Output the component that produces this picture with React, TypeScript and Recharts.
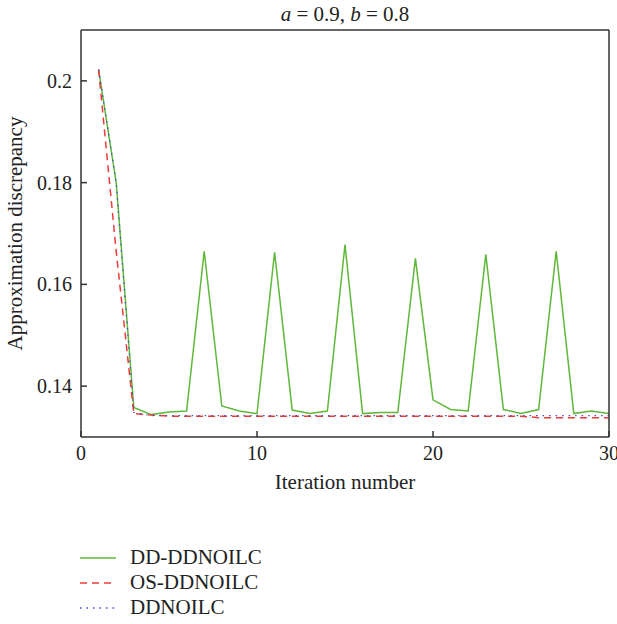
import { LineChart, Line, XAxis, YAxis, Legend, Label } from "recharts";

const iterations = [
  1, 2, 3, 4, 5, 6, 7, 8, 9, 10, 11, 12, 13, 14, 15, 16, 17, 18, 19, 20, 21,
  22, 23, 24, 25, 26, 27, 28, 29, 30,
];

const ddDdnoilc = [
  0.2022, 0.18, 0.1358, 0.1344, 0.1349, 0.1351, 0.1665, 0.1361, 0.1351,
  0.1346, 0.1663, 0.1353, 0.1346, 0.1351, 0.1678, 0.1346, 0.1348, 0.1348,
  0.1651, 0.1373, 0.1354, 0.1351, 0.1659, 0.1354, 0.1346, 0.1354, 0.1665,
  0.1346, 0.1351, 0.1346,
];

const osDdnoilc = [
  0.2022, 0.1665, 0.1346, 0.1343, 0.1341, 0.1341, 0.1341, 0.1341, 0.1341,
  0.1341, 0.1341, 0.1341, 0.1341, 0.1341, 0.1341, 0.1341, 0.1341, 0.1341,
  0.1341, 0.1341, 0.1341, 0.1341, 0.1341, 0.1341, 0.1341, 0.1338, 0.1338,
  0.1338, 0.1338, 0.1338,
];

const ddnoilc = [
  0.2022, 0.18, 0.1348, 0.1342, 0.1342, 0.1342, 0.1342, 0.1342, 0.1342,
  0.1342, 0.1342, 0.1342, 0.1342, 0.1342, 0.1342, 0.1342, 0.1342, 0.1342,
  0.1342, 0.1342, 0.1342, 0.1342, 0.1342, 0.1342, 0.1342, 0.1342, 0.1342,
  0.1342, 0.1342, 0.1342,
];

const seriesNames = ["DD-DDNOILC", "OS-DDNOILC", "DDNOILC"];
const xTicks = [0, 10, 20, 30];
const yTicks = [0.14, 0.16, 0.18, 0.2];

const data = iterations.map((x, i) => ({
  x,
  dd: ddDdnoilc[i],
  os: osDdnoilc[i],
  base: ddnoilc[i],
}));

const FONT = "'Liberation Serif', 'DejaVu Serif', serif";
const AXIS = "#333";

function renderLegend(props: any) {
  const items = (props.payload || [])
    .filter((it: any) => seriesNames.includes(it.value))
    .sort(
      (a: any, b: any) =>
        seriesNames.indexOf(a.value) - seriesNames.indexOf(b.value)
    );
  return (
    <div style={{ fontFamily: FONT, fontSize: 21, color: "#222" }}>
      {items.map((it: any) => (
        <div
          key={it.value}
          style={{ display: "flex", alignItems: "center", height: 25 }}
        >
          <svg width={36} height={10} style={{ marginRight: 14 }}>
            <line
              x1={0}
              y1={5}
              x2={36}
              y2={5}
              stroke={it.color}
              strokeWidth={1.5}
              strokeDasharray={it.payload?.strokeDasharray}
            />
          </svg>
          <span>{it.value}</span>
        </div>
      ))}
    </div>
  );
}

export default function App() {
  return (
    <div style={{ position: "absolute", left: 0, top: 0, background: "#fff" }}>
      <LineChart
        width={617}
        height={624}
        data={data}
        margin={{ top: 29, right: 7, bottom: 137, left: 0 }}
      >
        <XAxis
          xAxisId="b"
          dataKey="x"
          type="number"
          domain={[0, 30]}
          ticks={xTicks}
          height={50}
          stroke={AXIS}
          strokeWidth={1.5}
          tickSize={-6}
          tickMargin={15}
          tick={{ fill: "#222", fontSize: 20, fontFamily: FONT }}
          interval={0}
        >
          <Label
            value="Iteration number"
            position="insideTop"
            offset={37}
            style={{ fill: "#222", fontSize: 21, fontFamily: FONT }}
          />
        </XAxis>
        <XAxis
          xAxisId="t"
          dataKey="x"
          orientation="top"
          type="number"
          domain={[0, 30]}
          ticks={xTicks}
          height={1}
          stroke={AXIS}
          strokeWidth={1.5}
          tickSize={-6}
          tick={false}
          interval={0}
        >
          <Label
            content={(p: any) => {
              const vb = p.viewBox;
              return (
                <text
                  x={vb.x + vb.width / 2}
                  y={21}
                  textAnchor="middle"
                  fill="#222"
                  fontSize={21}
                  fontFamily={FONT}
                >
                  <tspan fontStyle="italic">a</tspan>
                  <tspan> = 0.9, </tspan>
                  <tspan fontStyle="italic">b</tspan>
                  <tspan> = 0.8</tspan>
                </text>
              );
            }}
          />
        </XAxis>
        <YAxis
          yAxisId="l"
          type="number"
          domain={[0.13, 0.21]}
          ticks={yTicks}
          width={81}
          stroke={AXIS}
          strokeWidth={1.5}
          tickSize={-6}
          tickMargin={15}
          tick={{ fill: "#222", fontSize: 20, fontFamily: FONT }}
          interval={0}
          allowDataOverflow
        >
          <Label
            content={(p: any) => {
              const vb = p.viewBox;
              const cx = vb.x + 22;
              const cy = vb.y + vb.height / 2;
              return (
                <text
                  x={cx}
                  y={cy}
                  transform={`rotate(-90 ${cx} ${cy})`}
                  textAnchor="middle"
                  fill="#222"
                  fontSize={21}
                  fontFamily={FONT}
                >
                  Approximation discrepancy
                </text>
              );
            }}
          />
        </YAxis>
        <YAxis
          yAxisId="r"
          orientation="right"
          type="number"
          domain={[0.13, 0.21]}
          ticks={yTicks}
          width={1}
          stroke={AXIS}
          strokeWidth={1.5}
          tickSize={-6}
          tick={false}
          interval={0}
          allowDataOverflow
        />
        <Legend
          layout="vertical"
          align="center"
          verticalAlign="middle"
          content={renderLegend}
          wrapperStyle={{ left: 80, top: 545, width: 300 }}
        />
        {/* invisible series so the top and right frame axes get a scale */}
        <Line
          xAxisId="t"
          yAxisId="r"
          dataKey="dd"
          stroke="none"
          dot={false}
          legendType="none"
          isAnimationActive={false}
        />
        <Line
          xAxisId="b"
          yAxisId="l"
          dataKey="dd"
          name="DD-DDNOILC"
          type="linear"
          stroke="#5fb83a"
          strokeWidth={1.5}
          dot={false}
          isAnimationActive={false}
        />
        <Line
          xAxisId="b"
          yAxisId="l"
          dataKey="os"
          name="OS-DDNOILC"
          type="linear"
          stroke="#f03a3a"
          strokeWidth={1.5}
          strokeDasharray="7 5"
          dot={false}
          isAnimationActive={false}
        />
        <Line
          xAxisId="b"
          yAxisId="l"
          dataKey="base"
          name="DDNOILC"
          type="linear"
          stroke="#3a4fc0"
          strokeWidth={1.2}
          strokeDasharray="1.5 5"
          dot={false}
          isAnimationActive={false}
        />
      </LineChart>
    </div>
  );
}
